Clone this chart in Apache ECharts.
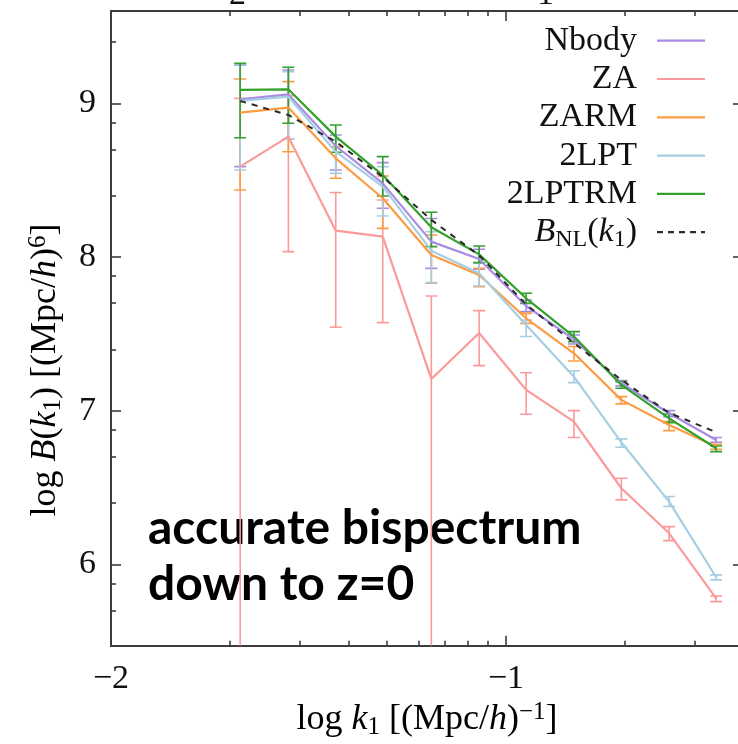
<!DOCTYPE html>
<html>
<head>
<meta charset="utf-8">
<script src="https://cdn.jsdelivr.net/npm/echarts@6/dist/echarts.min.js"></script>
<style>
  html, body { margin: 0; padding: 0; background: #fff; }
  #chart { width: 738px; height: 744px; }
</style>
</head>
<body>
<div id="chart"></div>
<script>
// ---- data: log bispectrum vs log k1 ----
const logK = [-1.673, -1.551, -1.431, -1.312, -1.189, -1.068, -0.949, -0.828, -0.708, -0.587, -0.468];

const nbody   = [9.026, 9.058, 8.722, 8.479, 8.100, 7.987, 7.681, 7.464, 7.178, 6.983, 6.809];
const nbodyLo = [8.588, 8.766, 8.566, 8.317, 7.926, 7.920, 7.644, 7.434, 7.161, 6.961, 6.794];
const nbodyHi = [9.249, 9.217, 8.794, 8.614, 8.250, 8.050, 7.720, 7.492, 7.195, 7.000, 6.825];

const za   = [8.588, 8.783, 8.171, 8.132, 7.206, 7.505, 7.135, 6.929, 6.495, 6.202, 5.779];
const zaLo = [null, 8.035, 7.543, 7.573, null, 7.293, 6.976, 6.825, 6.419, 6.154, 5.757];
const zaHi = [9.032, 9.050, 8.419, 8.371, 7.746, 7.651, 7.247, 7.000, 6.560, 6.245, 5.794];

const zarm   = [8.939, 8.972, 8.642, 8.382, 8.013, 7.883, 7.601, 7.373, 7.070, 6.907, 6.766];
const zarmLo = [8.436, 8.685, 8.512, 8.186, 7.829, 7.807, 7.568, 7.323, 7.044, 6.870, 6.749];
const zarmHi = [9.158, 9.141, 8.718, 8.527, 8.143, 7.926, 7.633, 7.417, 7.091, 6.929, 6.781];

const lpt2   = [9.015, 9.043, 8.685, 8.458, 8.041, 7.894, 7.558, 7.221, 6.794, 6.408, 5.916];
const lpt2Lo = [8.566, 8.766, 8.544, 8.267, 7.833, 7.811, 7.482, 7.182, 6.762, 6.376, 5.899];
const lpt2Hi = [9.255, 9.206, 8.761, 8.588, 8.165, 7.960, 7.590, 7.260, 6.816, 6.441, 5.931];

const lpt2rm   = [9.087, 9.091, 8.783, 8.533, 8.193, 8.017, 7.731, 7.482, 7.167, 6.950, 6.755];
const lpt2rmLo = [8.776, 8.870, 8.681, 8.397, 8.067, 7.963, 7.698, 7.449, 7.146, 6.922, 6.733];
const lpt2rmHi = [9.260, 9.234, 8.859, 8.653, 8.291, 8.071, 7.764, 7.514, 7.189, 6.978, 6.770];

const bnl = [9.015, 8.924, 8.750, 8.520, 8.241, 8.010, 7.690, 7.440, 7.200, 6.985, 6.860];

const xTickLabels = [-2, -1];
const yTickLabels = [6, 7, 8, 9];

// ---- styling ----
const SERIF = '"Liberation Serif", "DejaVu Serif", serif';
const INK = '#111';
const AXIS_COLOR = '#3c3c3c';
const X_MIN = -2, X_MAX = -0.4;
const Y_MIN = 5.4704, Y_MAX = 9.6005;

const models = [
  { name: 'Nbody',  color: '#a88be4', val: nbody,  lo: nbodyLo,  hi: nbodyHi,  label: '{n|Nbody}' },
  { name: 'ZA',     color: '#fb9a99', val: za,     lo: zaLo,     hi: zaHi,     label: '{n|ZA}' },
  { name: 'ZARM',   color: '#fd9b43', val: zarm,   lo: zarmLo,   hi: zarmHi,   label: '{n|ZARM}' },
  { name: '2LPT',   color: '#a6cee3', val: lpt2,   lo: lpt2Lo,   hi: lpt2Hi,   label: '{n|2LPT}' },
  { name: '2LPTRM', color: '#33a02c', val: lpt2rm, lo: lpt2rmLo, hi: lpt2rmHi, label: '{n|2LPTRM}' }
];

function richSet(fs) {
  const s = Math.round(fs * 0.7);
  return {
    n:   { fontFamily: SERIF, fontSize: fs, lineHeight: 40, color: INK },
    i:   { fontFamily: SERIF, fontSize: fs, lineHeight: 40, color: INK, fontStyle: 'italic' },
    sub: { fontFamily: SERIF, fontSize: s, lineHeight: 21, color: INK, verticalAlign: 'bottom' },
    sup: { fontFamily: SERIF, fontSize: s, lineHeight: 23, color: INK, verticalAlign: 'top' }
  };
}
const rich = richSet(34);
const titleRich = richSet(36);

// tick positions for the decade-style axes
const xMinor = [];
[-2, -1].forEach(d => { for (let n = 2; n <= 9; n++) { const v = d + Math.log10(n); if (v > X_MIN && v < X_MAX) xMinor.push(v); } });
const yMinor = [];
[5, 6, 7, 8, 9].forEach(d => [2.5, 5, 7.5].forEach(m => { const v = d + Math.log10(m); if (v > Y_MIN && v < Y_MAX) yMinor.push(v); }));

const minusFmt = v => (v < 0 ? '\u2212' + Math.abs(v) : String(v));

function makeAxis(kind, position, ticks, len, withLabels) {
  const ax = {
    type: 'value',
    position,
    min: kind === 'x' ? X_MIN : Y_MIN,
    max: kind === 'x' ? X_MAX : Y_MAX,
    axisLine: { show: true, onZero: false, lineStyle: { color: AXIS_COLOR, width: 2 } },
    axisTick: { show: true, inside: true, length: len, customValues: ticks, lineStyle: { color: AXIS_COLOR, width: 1.6 } },
    axisLabel: { show: false },
    splitLine: { show: false },
    minorTick: { show: false },
    axisPointer: { show: false }
  };
  if (withLabels) {
    ax.axisLabel = {
      show: true,
      customValues: kind === 'x' ? xTickLabels : yTickLabels,
      formatter: minusFmt,
      fontFamily: SERIF, fontSize: 34, color: INK,
      margin: kind === 'x' ? 16 : 15
    };
  }
  return ax;
}

const xMajor = xTickLabels.slice();
const yMajor = yTickLabels.slice();

const xAxes = [
  makeAxis('x', 'bottom', xMajor, 10, true),
  makeAxis('x', 'bottom', xMinor, 5, false),
  makeAxis('x', 'top', xMajor, 10, false),
  makeAxis('x', 'top', xMinor, 5, false)
];
const yAxes = [
  makeAxis('y', 'left', yMajor, 10, true),
  makeAxis('y', 'left', yMinor, 5, false),
  makeAxis('y', 'right', yMajor, 10, false),
  makeAxis('y', 'right', yMinor, 5, false)
];

function errorBars(m) {
  return {
    type: 'custom',
    name: m.name + ' err',
    clip: true,
    silent: true,
    xAxisIndex: 0, yAxisIndex: 0,
    data: logK.map((x, i) => [x, m.lo[i] == null ? Y_MIN : m.lo[i], m.hi[i], m.lo[i] == null ? 0 : 1]),
    encode: { x: 0, y: [1, 2] },
    renderItem(params, api) {
      const x = api.value(0);
      const top = api.coord([x, api.value(2)]);
      const bot = api.coord([x, api.value(1)]);
      const w = 6;
      const st = { stroke: m.color, lineWidth: 1.6 };
      const kids = [
        { type: 'line', shape: { x1: top[0], y1: top[1], x2: bot[0], y2: bot[1] }, style: st },
        { type: 'line', shape: { x1: top[0] - w, y1: top[1], x2: top[0] + w, y2: top[1] }, style: st }
      ];
      if (api.value(3) === 1) {
        kids.push({ type: 'line', shape: { x1: bot[0] - w, y1: bot[1], x2: bot[0] + w, y2: bot[1] }, style: st });
      }
      return { type: 'group', children: kids };
    }
  };
}

const series = [];
models.forEach(m => {
  series.push(errorBars(m));
  series.push({
    type: 'line', name: m.name, xAxisIndex: 0, yAxisIndex: 0,
    data: logK.map((x, i) => [x, m.val[i]]),
    symbol: 'none', clip: true, silent: true,
    lineStyle: { color: m.color, width: 2.2 },
    itemStyle: { color: m.color }
  });
});
series.push({
  type: 'line', name: 'BNL', xAxisIndex: 0, yAxisIndex: 0,
  data: logK.map((x, i) => [x, bnl[i]]),
  symbol: 'none', clip: true, silent: true,
  lineStyle: { color: '#2a2a2a', width: 2, type: [6, 6] }
});

// legend block: labels right-aligned, sample line to their right
const legendRows = models.map(m => ({ label: m.label, color: m.color, dash: null }))
  .concat([{ label: '{i|B}{sub|NL}{n|(}{i|k}{sub|1}{n|)}', color: '#2a2a2a', dash: [6, 5] }]);
const legendTop = 40.7, legendStep = 38.3;
const legendGraphics = [];
legendRows.forEach((r, k) => {
  const y = legendTop + k * legendStep;
  legendGraphics.push({
    type: 'text', x: 637, y: y, silent: true,
    style: { text: r.label, rich, align: 'right', verticalAlign: 'middle', fontFamily: SERIF, fontSize: 34, fill: INK }
  });
  legendGraphics.push({
    type: 'line', silent: true,
    shape: { x1: 657, y1: y, x2: 705, y2: y },
    style: { stroke: r.color, lineWidth: 2.2, lineDash: r.dash }
  });
});

const option = {
  animation: false,
  backgroundColor: '#ffffff',
  grid: { left: 111, top: 11, width: 632, height: 634.7, containLabel: false, outerBoundsMode: 'none' },
  xAxis: xAxes,
  yAxis: yAxes,
  series,
  graphic: [
    // axis titles
    {
      type: 'text', x: 427, y: 720, silent: true,
      style: { text: '{n|log }{i|k}{sub|1}{n| [(Mpc/}{i|h}{n|)}{sup|\u22121}{n|]}', rich: titleRich, align: 'center', verticalAlign: 'middle' }
    },
    {
      type: 'text', x: 46, y: 370, rotation: Math.PI / 2, silent: true,
      style: { text: '{n|log }{i|B}{n|(}{i|k}{sub|1}{n|) [(Mpc/}{i|h}{n|)}{sup|6}{n|]}', rich: titleRich, align: 'center', verticalAlign: 'middle' }
    },
    // labels of the panel above, cut by the top edge
    { type: 'text', x: 228, y: -4.5, silent: true,
      style: { text: '=2', fontFamily: SERIF, fontSize: 34, fill: INK, align: 'center', verticalAlign: 'middle' } },
    { type: 'text', x: 536, y: -4.5, silent: true,
      style: { text: '=1', fontFamily: SERIF, fontSize: 34, fill: INK, align: 'center', verticalAlign: 'middle' } },
    // annotation
    { type: 'text', x: 148, y: 528.5, silent: true,
      style: { text: 'accurate bispectrum', fontFamily: 'Lato, "Open Sans", sans-serif', fontWeight: 'bold', fontSize: 48, fill: '#000', align: 'left', verticalAlign: 'middle' } },
    { type: 'text', x: 148, y: 585, silent: true,
      style: { text: 'down to z=0', fontFamily: 'Lato, "Open Sans", sans-serif', fontWeight: 'bold', fontSize: 48, fill: '#000', align: 'left', verticalAlign: 'middle' } }
  ].concat(legendGraphics)
};

const chart = echarts.init(document.getElementById('chart'), null, { renderer: 'canvas' });
chart.setOption(option);
</script>
</body>
</html>
